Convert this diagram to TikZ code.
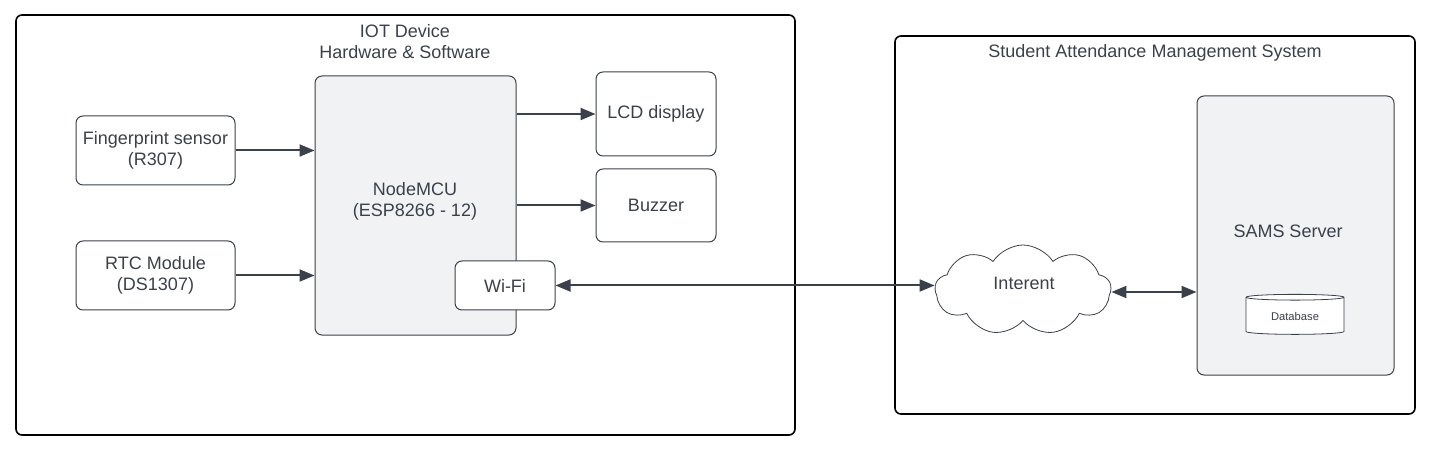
\documentclass[tikz,border=0pt]{standalone}
\usepackage{fontspec}
\setmainfont{Liberation Sans}
\usetikzlibrary{arrows.meta,shapes.symbols,shapes.geometric}
\definecolor{ink}{HTML}{3A414A}
\definecolor{panel}{HTML}{F1F2F4}
\begin{document}
\begin{tikzpicture}[x=1pt,y=-1pt,
  every node/.style={text=ink, font=\fontsize{18}{21}\selectfont, align=center},
  container/.style={draw=black, line width=1.6pt, rounded corners=6pt},
  box/.style={draw=ink, line width=1pt, rounded corners=7pt, fill=white, inner sep=0pt},
  panelbox/.style={draw=ink, line width=1pt, rounded corners=7pt, fill=panel, inner sep=0pt},
  arr/.style={draw=ink, line width=2pt, -{Triangle[length=15pt,width=12pt]}},
  darr/.style={draw=ink, line width=2pt, {Triangle[length=15pt,width=12pt]}-{Triangle[length=15pt,width=12pt]}}]
\useasboundingbox (0,0) rectangle (1435,454);
% containers
\draw[container] (16,15) rectangle (795,435);
\node (iottitle) at (405,42) {IOT Device\\Hardware \& Software};
\draw[container] (895,36) rectangle (1415,414);
\node (samstitle) at (1155,53) {Student Attendance Management System};
% left boxes
\node[box, minimum width=159pt, minimum height=69pt] (fp) at (155.5,150.5) {Fingerprint sensor\\(R307)};
\node[box, minimum width=159pt, minimum height=69pt] (rtc) at (155.5,275.5) {RTC Module\\(DS1307)};
\node[panelbox, minimum width=201pt, minimum height=259pt] (mcu) at (415.5,205.5) {};
\node (mcutext) at (415,201) {NodeMCU\\(ESP8266 - 12)};
\node[box, minimum width=120pt, minimum height=84pt] (lcd) at (656,114) {LCD display};
\node[box, minimum width=120pt, minimum height=73pt] (buz) at (656,205.5) {Buzzer};
\node[box, minimum width=100pt, minimum height=49pt] (wifi) at (505,285.5) {Wi-Fi};
% right side
\node[panelbox, minimum width=197pt, minimum height=279pt] (sams) at (1295.5,235.5) {};
\node (samstext) at (1288,231) {SAMS Server};
\node[cloud, cloud puffs=9, cloud puff arc=115, aspect=1.9, draw=ink, line width=0.8pt, fill=white,
      minimum width=176pt, minimum height=90pt, inner sep=0pt] (cloud) at (1023,290) {};
\node (cloudtext) at (1024,283) {Interent};
\node[cylinder, shape border rotate=90, draw=ink, line width=0.8pt, fill=white, aspect=0.12,
      minimum width=98pt, minimum height=40pt, inner sep=0pt,
      font=\fontsize{11.2}{13}\selectfont] (db) at (1295,316) {Database};
% connectors
\draw[arr] (fp.east) -- (fp.east -| mcu.west);
\draw[arr] (rtc.east) -- (rtc.east -| mcu.west);
\draw[arr] (lcd.west -| mcu.east) -- (lcd.west);
\draw[arr] (buz.west -| mcu.east) -- (buz.west);
\draw[darr] (wifi.east) -- (wifi.east -| cloud.west);
\draw[darr] (cloud.east |- 0,292) -- (sams.west |- 0,292);
\end{tikzpicture}
\end{document}
